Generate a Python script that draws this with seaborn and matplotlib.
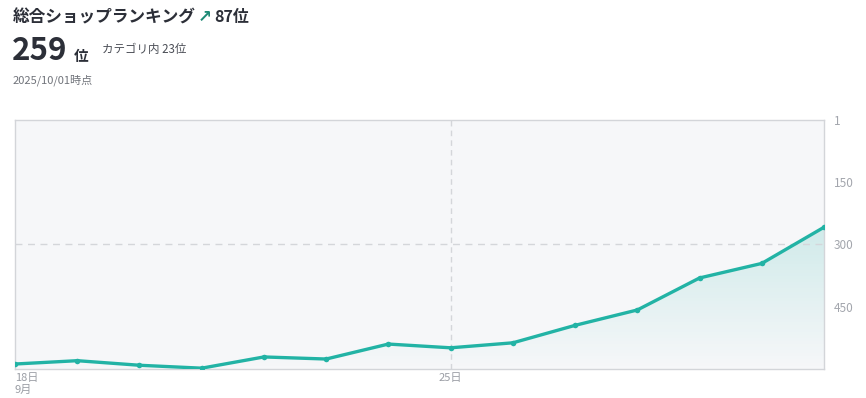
import numpy as np
import pandas as pd
import matplotlib
matplotlib.use("Agg")
import matplotlib.pyplot as plt
from matplotlib.colors import LinearSegmentedColormap
import seaborn as sns

dates = ["2025-09-18", "2025-09-19", "2025-09-20", "2025-09-21", "2025-09-22",
         "2025-09-23", "2025-09-24", "2025-09-25", "2025-09-26", "2025-09-27",
         "2025-09-28", "2025-09-29", "2025-09-30", "2025-10-01"]
ranks = [588, 580, 591, 598, 571, 576, 540, 549, 537, 495, 458, 381, 346, 259]
y_ticks = [1, 150, 300, 450]
x_tick_labels = {0: "18日\n9月", 7: "25日"}

sns.set_theme(style="white")
plt.rcParams["font.family"] = ["Noto Sans CJK JP", "DejaVu Sans"]

df = pd.DataFrame({"day": np.arange(len(dates)), "rank": ranks, "date": dates})

fig = plt.figure(figsize=(8.66, 3.98), dpi=100)
ax = fig.add_axes([15 / 866, 1 - 369 / 398, (824 - 15) / 866, (369 - 120) / 398])

teal = "#22b3a5"
ax.set_facecolor("#f6f7f9")

# gradient fill under line
ymin_r, ymax_r = 600, 1
x = df["day"].values
y = df["rank"].values
poly = ax.fill_between(x, y, ymin_r, color="none", lw=0)
cmap = LinearSegmentedColormap.from_list("g", [(0.13, 0.70, 0.65, 0.2), (0.13, 0.70, 0.65, 0.0)])
grad = np.linspace(0, 1, 256).reshape(-1, 1)
img = ax.imshow(grad, aspect="auto", cmap=cmap, extent=[x[0], x[-1], 600, 220],
                origin="upper", zorder=1)
img.set_clip_path(poly.get_paths()[0], transform=ax.transData)

sns.lineplot(data=df, x="day", y="rank", ax=ax, color=teal, linewidth=2.4,
             marker="o", markersize=4, markeredgewidth=0, zorder=3)

ax.set_xlim(x[0], x[-1])
ax.set_ylim(ymin_r, ymax_r)

ax.axhline(300, color="#d4d6da", lw=1, ls=(0, (5, 4)), zorder=2)
ax.axvline(7, color="#d4d6da", lw=1, ls=(0, (4, 3)), zorder=2)

ax.yaxis.tick_right()
ax.set_yticks(y_ticks)
ax.set_yticklabels([str(v) for v in y_ticks])
ax.set_xticks(list(x_tick_labels.keys()))
ax.set_xticklabels(list(x_tick_labels.values()))
xl = ax.get_xticklabels()
xl[0].set_horizontalalignment("left")
xl[1].set_horizontalalignment("center")
ax.tick_params(axis="y", length=0, pad=7, labelsize=8.5, labelcolor="#a3a6ad")
ax.tick_params(axis="x", length=0, pad=3, labelsize=8, labelcolor="#9a9da4")
ax.set_xlabel("")
ax.set_ylabel("")
for s in ax.spines.values():
    s.set_color("#d3d5d9")
    s.set_linewidth(1)

# header
dark = "#2c2f38"
fig.text(13 / 866, 1 - 17 / 398, "総合ショップランキング", fontsize=12, fontweight="bold",
         color=dark, va="center", ha="left")
fig.text(198 / 866, 1 - 17 / 398, "↗", fontsize=12, fontweight="bold",
         color="#1e8a76", va="center", ha="left", family=["DejaVu Sans"])
fig.text(214 / 866, 1 - 17 / 398, "87位", fontsize=11.5, fontweight="bold",
         color=dark, va="center", ha="left")
fig.text(12 / 866, 1 - 51 / 398, "259", fontsize=22.5, fontweight="bold",
         color=dark, va="center", ha="left")
fig.text(74 / 866, 1 - 56 / 398, "位", fontsize=10.5, fontweight="bold",
         color=dark, va="center", ha="left")
fig.text(102 / 866, 1 - 50 / 398, "カテゴリ内 23位", fontsize=8.3,
         color="#4a4d55", va="center", ha="left")
fig.text(13 / 866, 1 - 80 / 398, "2025/10/01時点", fontsize=8,
         color="#70737a", va="center", ha="left")

fig.savefig("out.png", dpi=100, facecolor="white")
